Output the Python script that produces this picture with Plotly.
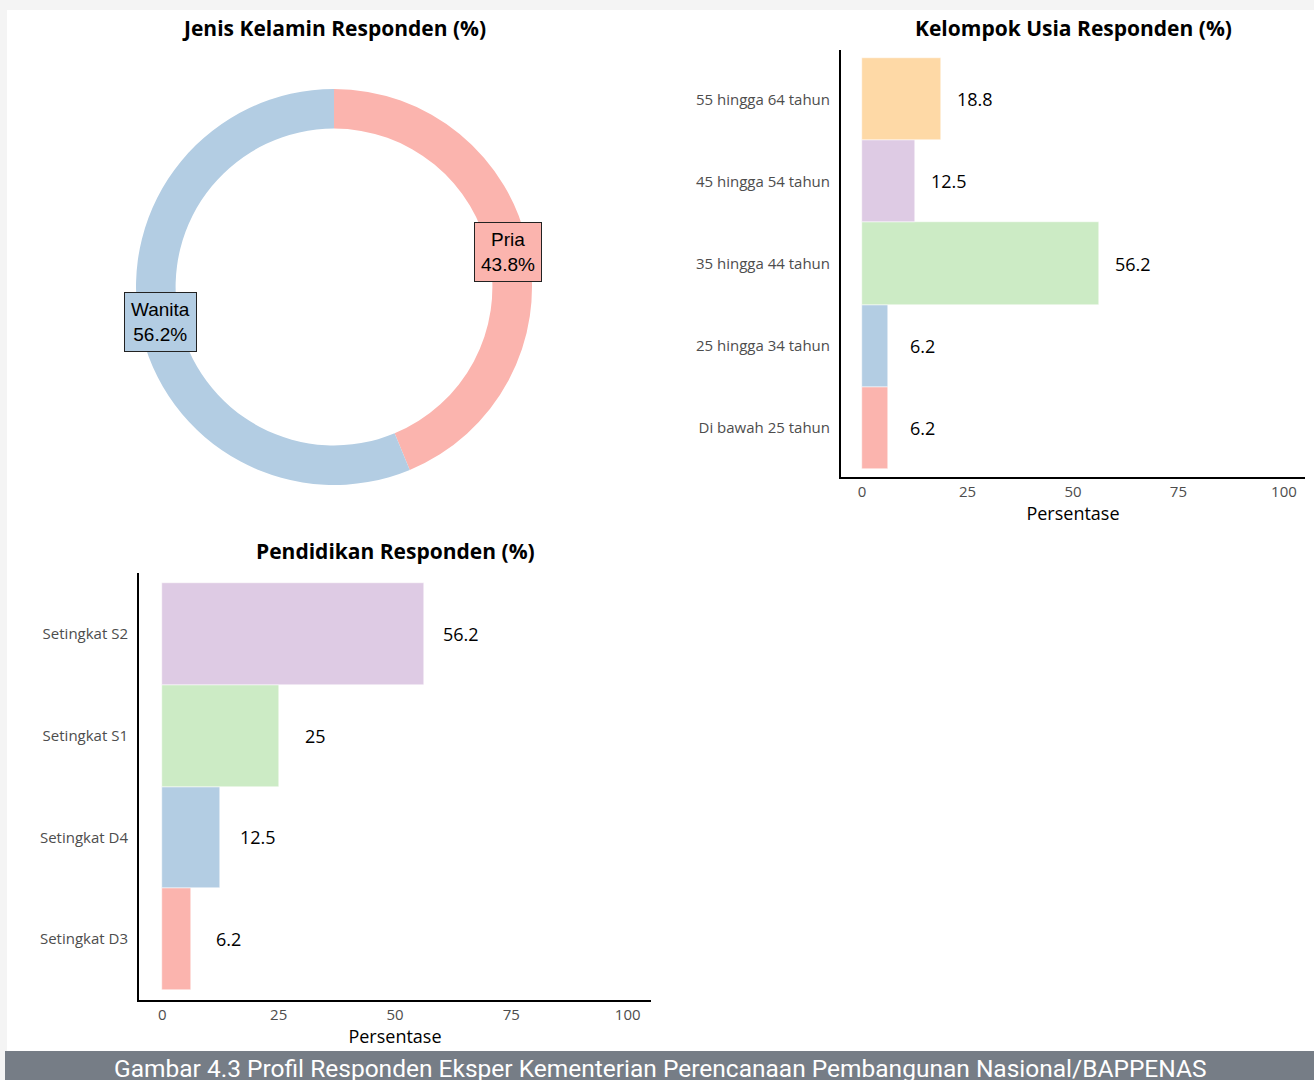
import math
import plotly.graph_objects as go

W, H = 1314, 1080

# ---------------- data ----------------
gender_labels = ["Pria", "Wanita"]
gender_values = [43.75, 56.25]
gender_colors = ["#FBB4AE", "#B3CDE3"]

age_labels = ["Di bawah 25 tahun", "25 hingga 34 tahun", "35 hingga 44 tahun",
              "45 hingga 54 tahun", "55 hingga 64 tahun"]
age_values = [6.25, 6.25, 56.25, 12.5, 18.75]
age_colors = ["#FBB4AE", "#B3CDE3", "#CCEBC5", "#DECBE4", "#FED9A6"]

edu_labels = ["Setingkat D3", "Setingkat D4", "Setingkat S1", "Setingkat S2"]
edu_values = [6.25, 12.5, 25, 56.25]
edu_colors = ["#FBB4AE", "#B3CDE3", "#CCEBC5", "#DECBE4"]

x_ticks = [0, 25, 50, 75, 100]

titles = ["Jenis Kelamin Responden (%)", "Kelompok Usia Responden (%)", "Pendidikan Responden (%)"]
axis_title = "Persentase"
caption = "Gambar 4.3 Profil Responden Eksper Kementerian Perencanaan Pembangunan Nasional/BAPPENAS"

FONT = "Open Sans"
TICK_COLOR = "#4d4d4d"


def px_x(p):
    return p / W


def px_y(p):
    return 1 - p / H


fig = go.Figure()

# ---------------- donut ----------------
cx, cy, R = 334, 287, 198
fig.add_trace(go.Pie(
    labels=gender_labels, values=gender_values,
    marker=dict(colors=gender_colors, line=dict(width=0)),
    hole=0.8, sort=False, direction="clockwise", rotation=0,
    textinfo="none", hoverinfo="label+percent", showlegend=False,
    domain=dict(x=[px_x(cx - R), px_x(cx + R)], y=[px_y(cy + R), px_y(cy - R)]),
))

total = sum(gender_values)
cum = 0
r_lab = 177
for lab, v, c in zip(gender_labels, gender_values, gender_colors):
    ang = (cum + v / 2) / total * 2 * math.pi
    cum += v
    lx = cx + r_lab * math.sin(ang)
    ly = cy - r_lab * math.cos(ang)
    fig.add_annotation(
        x=px_x(lx), y=px_y(ly), xref="paper", yref="paper",
        text=f"{lab}<br>{round(v / total * 100, 1)}%",
        showarrow=False, bgcolor=c, bordercolor="#222", borderwidth=1, borderpad=6,
        font=dict(family="Liberation Sans, Arial", size=19, color="black"),
        xanchor="center", yanchor="middle",
    )

# ---------------- age bars ----------------
fig.add_trace(go.Bar(
    y=age_labels, x=age_values, orientation="h",
    marker=dict(color=age_colors, line=dict(color="white", width=0.5)),
    xaxis="x", yaxis="y", showlegend=False, width=1,
))
for lab, v in zip(age_labels, age_values):
    fig.add_annotation(x=v + 8, y=lab, xref="x", yref="y", text=f"{round(v, 1):g}",
                       showarrow=False, font=dict(family=FONT, size=18, color="black"))

# ---------------- education bars ----------------
fig.add_trace(go.Bar(
    y=edu_labels, x=edu_values, orientation="h",
    marker=dict(color=edu_colors, line=dict(color="white", width=0.5)),
    xaxis="x2", yaxis="y2", showlegend=False, width=1,
))
for lab, v in zip(edu_labels, edu_values):
    fig.add_annotation(x=v + 8, y=lab, xref="x2", yref="y2", text=f"{round(v, 1):g}",
                       showarrow=False, font=dict(family=FONT, size=18, color="black"))

axis_common = dict(showgrid=False, zeroline=False, ticks="", showline=True,
                   linecolor="black", linewidth=2,
                   tickfont=dict(family=FONT, size=15, color=TICK_COLOR))

fig.update_layout(
    width=W, height=H, margin=dict(l=0, r=0, t=0, b=0),
    paper_bgcolor="#f4f4f4", plot_bgcolor="rgba(0,0,0,0)",
    bargap=0,
    xaxis=dict(domain=[px_x(841), px_x(1305)], range=[-5, 105], tickvals=x_ticks,
               anchor="y", title=dict(text=axis_title, font=dict(family=FONT, size=18, color="black"), standoff=5),
               **axis_common),
    yaxis=dict(domain=[px_y(477), px_y(50)], range=[-0.6, 4.6], anchor="x",
               type="category", categoryorder="array", categoryarray=age_labels,
               ticklabelstandoff=6, **axis_common),
    xaxis2=dict(domain=[px_x(139), px_x(651)], range=[-5, 105], tickvals=x_ticks,
                anchor="y2", title=dict(text=axis_title, font=dict(family=FONT, size=18, color="black"), standoff=5),
                **axis_common),
    yaxis2=dict(domain=[px_y(1000), px_y(573)], range=[-0.6, 3.6], anchor="x2",
                type="category", categoryorder="array", categoryarray=edu_labels,
                ticklabelstandoff=6, **axis_common),
)

# background panels
fig.add_shape(type="rect", xref="paper", yref="paper", x0=px_x(7), x1=1, y0=px_y(1051), y1=px_y(10),
              fillcolor="white", line=dict(width=0), layer="below")
fig.add_shape(type="rect", xref="paper", yref="paper", x0=px_x(5), x1=1, y0=0, y1=px_y(1051),
              fillcolor="#767d86", line=dict(width=0), layer="above")

# titles
for t, (tx, ty) in zip(titles, [(334, 28), (1073, 28), (395, 551)]):
    fig.add_annotation(x=px_x(tx), y=px_y(ty), xref="paper", yref="paper", text=f"<b>{t}</b>",
                       showarrow=False, font=dict(family=FONT, size=21, color="black"),
                       xanchor="center", yanchor="middle")

fig.add_annotation(x=px_x(660), y=px_y(1068), xref="paper", yref="paper", text=caption,
                   showarrow=False, font=dict(family="Roboto", size=24.5, color="white"),
                   xanchor="center", yanchor="middle")

fig.write_html("out.html")
